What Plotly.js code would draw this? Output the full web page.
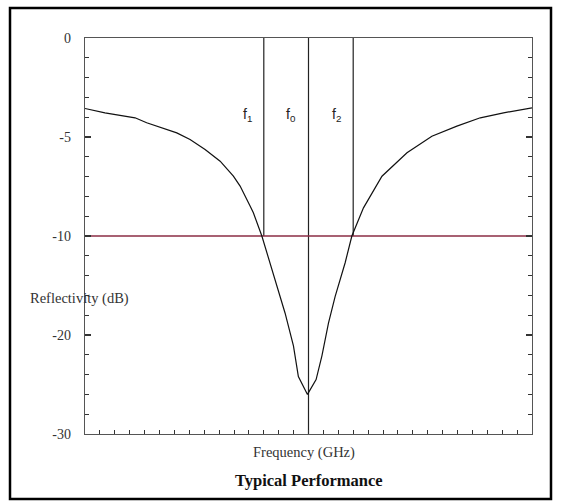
<!DOCTYPE html>
<html>
<head>
<meta charset="utf-8">
<script src="https://cdn.plot.ly/plotly-3.0.1.min.js"></script>
<style>html,body{margin:0;padding:0;background:#fff;}#chart{width:568px;height:502px;}</style>
</head>
<body>
<div id="chart"></div>
<script>
// Frequency position (arbitrary units across the axis, 0..30)
var freq = [0, 1.34, 3.36, 4.14, 6.16, 7.05, 8.06, 9.07, 9.96, 10.41, 11.08, 11.30, 11.87, 12.42, 13.10, 13.43, 13.99, 14.32, 14.93,
            15.51, 15.90, 16.34, 16.79, 17.46, 17.91, 18.47, 18.69, 19.93, 21.61, 23.28, 24.96, 26.53, 28.09, 30];
// Reflectivity in dB
var reflectivity = [-3.56, -3.78, -4.03, -4.28, -4.79, -5.13, -5.63, -6.22, -6.98, -7.48, -8.49, -8.83, -10.0, -12.7, -16.1, -17.8, -21.1, -24.2, -26.0,
            -24.5, -22.1, -18.8, -16.1, -12.7, -10.0, -9.0, -8.58, -6.98, -5.80, -4.96, -4.45, -4.03, -3.78, -3.53];
// Axis tick labels (dB), drawn equally spaced as in the original figure
var dbTicks = [0, -5, -10, -20, -30];
var dbTickText = ['0', '-5', '-10', '-20', '-30'];
// Marker frequencies
var markerNames = ['f<sub>1</sub>', 'f<sub>0</sub>', 'f<sub>2</sub>'];
var markerFreq = [12, 15, 18];
var markerStop = [-10, -30, -10];
var threshold = -10;

// piecewise axis scale of the original: 0..-10 dB and -10..-30 dB
function scaleDb(v) {
  return v >= -10 ? v * 1.5 : -15 + (v + 10) * 0.75;
}

var yDisp = reflectivity.map(scaleDb);
var traces = [];

// marker vertical lines
markerFreq.forEach(function (f, i) {
  traces.push({
    x: [f, f], y: [0, scaleDb(markerStop[i])], mode: 'lines',
    line: {color: '#222', width: 1.2}, hoverinfo: 'skip', showlegend: false
  });
});
// -10 dB threshold
traces.push({
  x: [0, 30], y: [scaleDb(threshold), scaleDb(threshold)], mode: 'lines',
  line: {color: '#8b2c44', width: 1.5}, hoverinfo: 'skip', showlegend: false
});
// reflectivity curve
traces.push({
  x: freq, y: yDisp, mode: 'lines',
  line: {color: '#111', width: 1.2}, showlegend: false
});

var serif = 'Liberation Serif, Times New Roman, serif';
var annotations = markerNames.map(function (n, i) {
  return {
    x: [10.88, 13.83, 16.86][i], y: -5.8, xref: 'x', yref: 'y',
    text: n, showarrow: false,
    font: {family: 'Liberation Sans, Arial, sans-serif', size: 14, color: '#222'}
  };
});
annotations.push({
  xref: 'paper', yref: 'paper', x: (28 - 85) / 447, y: (434 - 298) / 396,
  xanchor: 'left', yanchor: 'middle', text: 'Reflectivity (dB)', showarrow: false,
  font: {family: serif, size: 14.5, color: '#333'}
});
annotations.push({
  xref: 'paper', yref: 'paper', x: (304 - 85) / 447, y: (434 - 452) / 396,
  xanchor: 'center', yanchor: 'middle', text: 'Frequency (GHz)', showarrow: false,
  font: {family: serif, size: 14.5, color: '#333'}
});
annotations.push({
  xref: 'paper', yref: 'paper', x: (309 - 85) / 447, y: (434 - 480) / 396,
  xanchor: 'center', yanchor: 'middle', text: '<b>Typical Performance</b>', showarrow: false,
  font: {family: serif, size: 16.5, color: '#111'}
});

var layout = {
  width: 568, height: 502,
  margin: {l: 85, r: 36, t: 38, b: 68, autoexpand: false},
  paper_bgcolor: '#fff', plot_bgcolor: '#fff',
  xaxis: {
    range: [0, 30], showgrid: false, zeroline: false, showticklabels: false,
    showline: true, linecolor: '#555', linewidth: 1.2, mirror: true,
    ticks: 'inside', tick0: 0, dtick: 1, ticklen: 4, tickcolor: '#333', tickwidth: 1
  },
  yaxis: {
    range: [-30, 0], showgrid: false, zeroline: false,
    tickmode: 'array', tickvals: dbTicks.map(scaleDb), ticktext: dbTickText,
    showline: true, linecolor: '#555', linewidth: 1.2, mirror: 'ticks',
    ticks: 'inside', ticklen: 6, tickcolor: '#333', tickwidth: 1.2,
    ticklabelstandoff: 10,
    tickfont: {family: serif, size: 14, color: '#333'},
    minor: {ticks: 'inside', tick0: 0, dtick: 1.5, ticklen: 4, tickcolor: '#333', tickwidth: 1, showgrid: false}
  },
  shapes: [{
    type: 'rect', xref: 'paper', yref: 'paper',
    x0: (10 - 85) / 447, x1: (551 - 85) / 447, y0: (434 - 499) / 396, y1: (434 - 8) / 396,
    line: {color: '#000', width: 2.5}, fillcolor: 'rgba(0,0,0,0)'
  }],
  annotations: annotations
};

Plotly.newPlot('chart', traces, layout, {displayModeBar: false, staticPlot: true});
</script>
</body>
</html>
